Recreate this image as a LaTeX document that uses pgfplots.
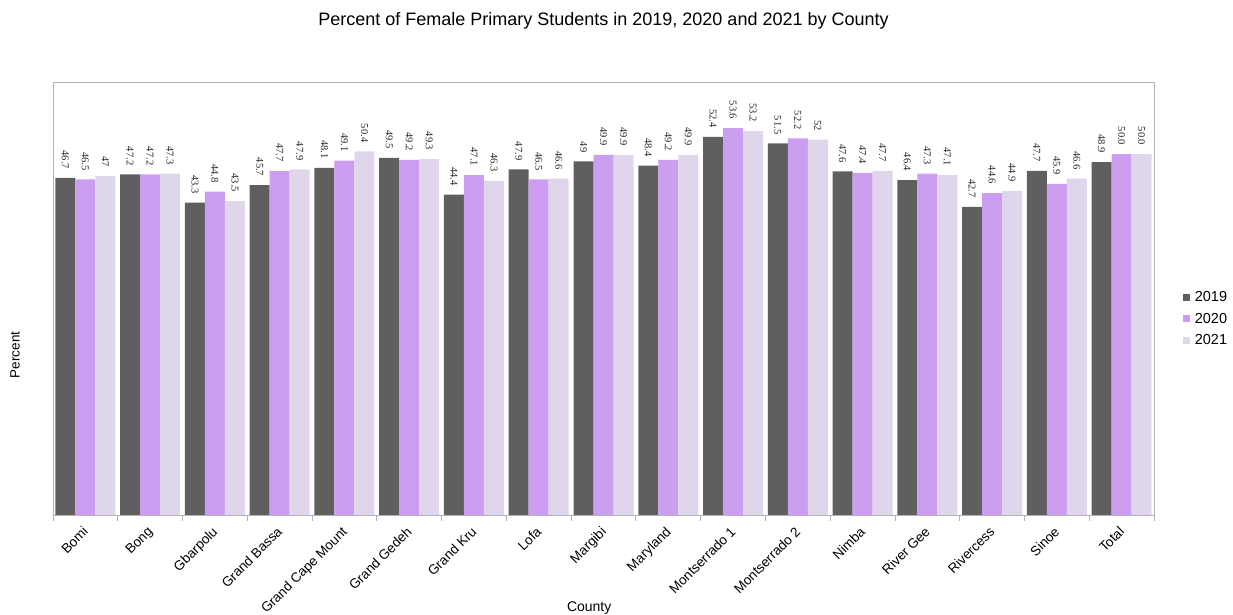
\documentclass[border=0pt]{standalone}
\usepackage{fontspec}
\setmainfont{Liberation Sans}
\newfontfamily\seriffont{Liberation Serif}
\usepackage{pgfplots}
\usepackage{pgfplotstable}
\pgfplotsset{compat=1.18}

\definecolor{cA}{HTML}{5F5F5F}
\definecolor{cB}{HTML}{CC9EF0}
\definecolor{cC}{HTML}{E0D6EB}
\definecolor{frame}{HTML}{B3B3B3}

\pgfplotstableread{
x y lab
0 46.7 46.7
1 47.2 47.2
2 43.3 43.3
3 45.7 45.7
4 48.1 48.1
5 49.5 49.5
6 44.4 44.4
7 47.9 47.9
8 49.0 49
9 48.4 48.4
10 52.4 52.4
11 51.5 51.5
12 47.6 47.6
13 46.4 46.4
14 42.7 42.7
15 47.7 47.7
16 48.9 48.9
}\dataA

\pgfplotstableread{
x y lab
0 46.5 46.5
1 47.2 47.2
2 44.8 44.8
3 47.7 47.7
4 49.1 49.1
5 49.2 49.2
6 47.1 47.1
7 46.5 46.5
8 49.9 49.9
9 49.2 49.2
10 53.6 53.6
11 52.2 52.2
12 47.4 47.4
13 47.3 47.3
14 44.6 44.6
15 45.9 45.9
16 50.0 50.0
}\dataB

\pgfplotstableread{
x y lab
0 47.0 47
1 47.3 47.3
2 43.5 43.5
3 47.9 47.9
4 50.4 50.4
5 49.3 49.3
6 46.3 46.3
7 46.6 46.6
8 49.9 49.9
9 49.9 49.9
10 53.2 53.2
11 52.0 52
12 47.7 47.7
13 47.1 47.1
14 44.9 44.9
15 46.6 46.6
16 50.0 50.0
}\dataC

\begin{document}
\begin{tikzpicture}
\useasboundingbox (0,0) rectangle (1233pt,615pt);
\begin{axis}[
  at={(53pt,100pt)}, anchor=south west,
  scale only axis, width=1101pt, height=433pt,
  ybar=0pt, bar width=20pt,
  xmin=-0.5, xmax=16.5, ymin=0, ymax=60,
  ytick=\empty,
  xtick={0,...,16},
  xticklabels={Bomi,Bong,Gbarpolu,Grand Bassa,Grand Cape Mount,Grand Gedeh,Grand Kru,Lofa,Margibi,Maryland,Montserrado 1,Montserrado 2,Nimba,River Gee,Rivercess,Sinoe,Total},
  minor xtick={-0.5,0.5,1.5,2.5,3.5,4.5,5.5,6.5,7.5,8.5,9.5,10.5,11.5,12.5,13.5,14.5,15.5,16.5},
  major tick length=0pt, minor tick length=6pt,
  tick align=outside, tick pos=bottom,
  minor tick style={frame, line width=0.8pt},
  axis line style={frame, line width=0.8pt},
  x tick label style={rotate=45, anchor=north east, font=\fontsize{13.5}{15}\selectfont, inner sep=2pt, xshift=-8pt, yshift=-3pt},
  title={Percent of Female Primary Students in 2019, 2020 and 2021 by County},
  title style={at={(axis description cs:0.5,1.127)}, anchor=center, font=\fontsize{18}{20}\selectfont},
  xlabel={County},
  every axis x label/.style={at={(axis description cs:0.487,-0.216)}, anchor=center, font=\fontsize{14}{16}\selectfont},
  ylabel={Percent},
  every axis y label/.style={at={(axis description cs:-0.0345,0.37)}, rotate=90, anchor=center, font=\fontsize{13.5}{16}\selectfont},
  point meta=explicit symbolic,
  nodes near coords,
  nodes near coords style={rotate=-90, anchor=east, font=\seriffont\fontsize{10.5}{12}\selectfont, inner sep=0pt, outer sep=9pt, text=black!85},
  legend style={at={(axis description cs:1.026,0.453)}, anchor=west, draw=none, fill=none, font=\fontsize{14.5}{16}\selectfont, row sep=6pt, inner sep=0pt},
  legend cell align=left,
  legend image code/.code={\fill[#1] (0pt,-3.5pt) rectangle (7pt,3.5pt); \path (0pt,0pt) -- (10pt,0pt);},
  clip=false,
]
\addplot[fill=cA, draw=none] table[x=x, y=y, meta=lab] {\dataA};
\addplot[fill=cB, draw=none] table[x=x, y=y, meta=lab] {\dataB};
\addplot[fill=cC, draw=none] table[x=x, y=y, meta=lab] {\dataC};
\legend{2019,2020,2021}
\end{axis}
\end{tikzpicture}
\end{document}
